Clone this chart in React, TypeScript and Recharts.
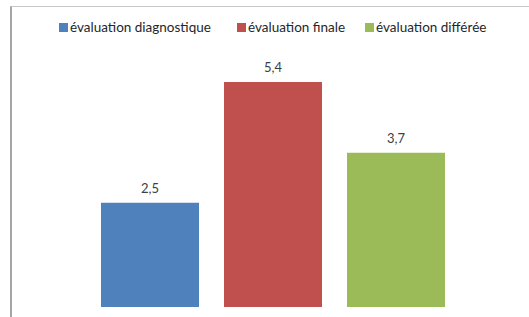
import React from "react";
import { BarChart, Bar, XAxis, YAxis, Legend, LabelList } from "recharts";

const categories = [""];
const seriesNames = ["évaluation diagnostique", "évaluation finale", "évaluation différée"];
const seriesKeys = ["diag", "finale", "differee"];
const diagValues = [2.5];
const finaleValues = [5.4];
const differeeValues = [3.7];
const colors = ["#4f81bd", "#c0504d", "#9bbb59"];
const legendX = [59, 237, 365];

const data = categories.map((c, i) => ({
  name: c,
  diag: diagValues[i],
  finale: finaleValues[i],
  differee: differeeValues[i],
}));

const fontFamily = "Lato, 'Open Sans', sans-serif";

const renderLegend = () => (
  <div style={{ position: "relative", height: 16, fontFamily, fontSize: 13.5, color: "#262626" }}>
    {seriesNames.map((n, i) => (
      <div key={n} style={{ position: "absolute", left: legendX[i], top: 0, display: "flex", alignItems: "center", whiteSpace: "nowrap", height: 16 }}>
        <span style={{ display: "inline-block", width: 9, height: 9, background: colors[i], marginRight: 2 }} />
        <span>{n}</span>
      </div>
    ))}
  </div>
);

const fmt = (v: any) => String(v).replace(".", ",");

export default function App() {
  return (
    <div style={{ position: "absolute", left: 0, top: 0, width: 529, height: 317, background: "#fff" }}>
      <div style={{ position: "absolute", left: 10, top: 6, width: 519, height: 311, borderLeft: "2px solid #a6a6a6", borderTop: "1px solid #c8c8c8" }} />
      <BarChart
        width={529}
        height={317}
        data={data}
        margin={{ top: 41, right: 11, bottom: 10, left: 27 }}
        barSize={98}
        barGap={25}
        style={{ position: "absolute", left: 0, top: 0 }}
      >
        <XAxis dataKey="name" tick={false} tickLine={false} height={0} axisLine={{ stroke: "#bfbfbf", strokeWidth: 2 }} />
        <YAxis hide domain={[0, 6]} />
        <Legend verticalAlign="top" content={renderLegend} wrapperStyle={{ top: 19, left: 0, width: 529 }} />
        {seriesKeys.map((k, i) => (
          <Bar key={k} dataKey={k} name={seriesNames[i]} fill={colors[i]} isAnimationActive={false}>
            <LabelList dataKey={k} position="top" offset={10} formatter={fmt} style={{ fill: "#404040", fontSize: 13, fontFamily }} />
          </Bar>
        ))}
      </BarChart>
    </div>
  );
}
